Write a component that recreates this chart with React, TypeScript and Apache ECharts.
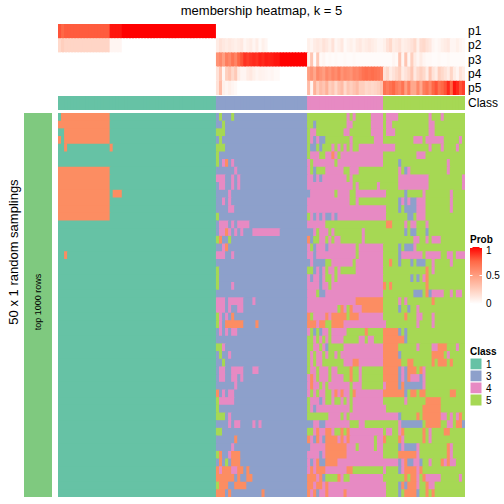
import React, { useEffect, useRef } from "react";
import * as echarts from "echarts";

const TITLE = "membership heatmap, k = 5";
const ROW_TITLE = "50 x 1 random samplings";
const ROW_ANNO_LABEL = "top 1000 rows";

const CLASS_IDS = [1, 3, 4, 5];
const CLASS_SIZES = [52, 30, 25, 27];
const LEGEND_CLASSES = ["1", "3", "4", "5"];
const PROB_NAMES = ["p1", "p2", "p3", "p4", "p5"];
const PROB_TICKS = ["1", "0.5", "0"];

// membership probabilities (percent), per column, segments: class1 | class3 | class4 | class5
const P1 = [
  80, 75, 78, 78, 78, 78, 78, 78, 78, 78, 78, 78, 78, 78, 78, 78, 78, 95, 95, 95,
  95, 100, 100, 100, 100, 100, 100, 100, 100, 100, 100, 100, 100, 100, 100, 100, 100, 100, 100, 100,
  100, 100, 100, 100, 100, 100, 100, 100, 100, 100, 100, 100,
  0, 0, 0, 0, 0, 0, 0, 0, 0, 0, 0, 0, 0, 0, 0, 0, 0, 0, 0, 0, 0, 0, 0, 0, 0, 0, 0, 0, 0, 0,
  0, 0, 0, 0, 0, 0, 0, 0, 0, 0, 0, 0, 0, 0, 0, 0, 0, 0, 0, 0, 0, 0, 0, 0, 0,
  0, 0, 0, 0, 0, 0, 0, 0, 0, 0, 0, 0, 0, 0, 0, 0, 0, 0, 0, 0, 0, 0, 0, 0, 0, 0, 0,
];
const P2 = [
  20, 25, 22, 22, 22, 22, 22, 22, 22, 22, 22, 22, 22, 22, 22, 22, 22, 5, 5, 5,
  5, 0, 0, 0, 0, 0, 0, 0, 0, 0, 0, 0, 0, 0, 0, 0, 0, 0, 0, 0,
  0, 0, 0, 0, 0, 0, 0, 0, 0, 0, 0, 0,
  10, 15, 12, 10, 12, 10, 8, 10, 12, 5, 8, 10, 5, 10, 3, 8, 5, 0, 0, 0, 0, 0, 0, 0, 0, 0, 0, 0, 0, 0,
  8, 5, 10, 12, 10, 15, 12, 8, 15, 5, 8, 12, 3, 6, 8, 5, 10, 12, 8, 10, 12, 10, 8, 5, 5,
  8, 15, 20, 10, 12, 15, 8, 10, 12, 15, 20, 8, 18, 20, 15, 12, 5, 3, 5, 8, 10, 12, 5, 5, 8, 5, 3,
];
const P3 = [
  0, 0, 0, 0, 0, 0, 0, 0, 0, 0, 0, 0, 0, 0, 0, 0, 0, 0, 0, 0,
  0, 0, 0, 0, 0, 0, 0, 0, 0, 0, 0, 0, 0, 0, 0, 0, 0, 0, 0, 0,
  0, 0, 0, 0, 0, 0, 0, 0, 0, 0, 0, 0,
  55, 60, 50, 65, 60, 70, 62, 75, 80, 88, 85, 88, 90, 88, 92, 90, 93, 92, 93, 95, 95, 100, 100, 100, 100, 100, 100, 100, 100, 100,
  8, 30, 2, 28, 3, 5, 2, 3, 2, 3, 2, 2, 3, 2, 2, 3, 2, 2, 2, 2, 2, 2, 2, 2, 2,
  2, 2, 2, 5, 3, 30, 5, 30, 5, 25, 10, 5, 10, 5, 3, 3, 2, 2, 3, 2, 2, 3, 2, 2, 2, 2, 2,
];
const P4 = [
  0, 0, 0, 0, 0, 0, 0, 0, 0, 0, 0, 0, 0, 0, 0, 0, 0, 0, 0, 0,
  0, 0, 0, 0, 0, 0, 0, 0, 0, 0, 0, 0, 0, 0, 0, 0, 0, 0, 0, 0,
  0, 0, 0, 0, 0, 0, 0, 0, 0, 0, 0, 0,
  15, 30, 5, 25, 30, 20, 28, 10, 5, 5, 10, 12, 8, 5, 7, 6, 5, 4, 5, 3, 3, 0, 0, 0, 0, 0, 0, 0, 0, 0,
  50, 55, 45, 60, 55, 50, 60, 55, 62, 58, 65, 55, 60, 58, 55, 62, 60, 65, 70, 72, 70, 72, 70, 68, 65,
  15, 20, 10, 15, 20, 25, 10, 15, 20, 30, 12, 20, 25, 20, 10, 30, 15, 10, 25, 20, 15, 10, 22, 10, 5, 15, 10,
];
const P5 = [
  0, 0, 0, 0, 0, 0, 0, 0, 0, 0, 0, 0, 0, 0, 0, 0, 0, 0, 0, 0,
  0, 0, 0, 0, 0, 0, 0, 0, 0, 0, 0, 0, 0, 0, 0, 0, 0, 0, 0, 0,
  0, 0, 0, 0, 0, 0, 0, 0, 0, 0, 0, 0,
  15, 35, 8, 5, 8, 5, 3, 0, 0, 0, 0, 0, 0, 0, 0, 0, 0, 0, 0, 0, 0, 0, 0, 0, 0, 0, 0, 0, 0, 0,
  35, 5, 40, 25, 35, 30, 40, 25, 30, 20, 30, 35, 20, 30, 25, 30, 35, 25, 25, 20, 22, 20, 22, 25, 30,
  70, 65, 70, 75, 65, 60, 70, 50, 65, 45, 45, 60, 45, 65, 70, 60, 75, 80, 70, 75, 80, 90, 75, 95, 90, 80, 85,
];

// per sampling row: columns whose class differs from the consensus class ("from-to:class")
const MAIN_ROWS = [
  "1-16:2 53:5 57:5 82-94:5 96:5 98-102:5 108-111:4 122:4 126:4",
  "0-16:2 54:5 82-83:5 84:3 85-94:5 97-102:5 108-109:4 122-123:4",
  "2-16:2 52-54:5 82:5 85-93:5 96-102:5 108-110:4 122-123:4",
  "0:2 2-16:2 53:5 82:5 84:3 86-87:3 88-95:5 97-103:5 117-119:4 121-126:4 132:4",
  "2:2 17:2 52-54:5 82:5 83-84:3 85:5 86:3 87-89:5 91:5 93:5 95:5 97-98:5 107-110:4 122:4 126:4 131:4",
  "52:5 82:5 86-87:5 90:2 92:5 118-120:4",
  "52:5 54:4 55:2 57:4 83:5 91:5 112:3 128:4",
  "0-16:2 58:4 83:5 84:3 85-87:5 94-95:5 99-106:5 112:4 114:3 115:4 128:4",
  "0-16:2 52-54:4 57:4 59:4 84:3 86:3 95:5 97-106:5 112-121:4 133:4",
  "0-16:2 53-54:4 57:4 59:4 97:5 99-104:5 106:5 112-121:4 133:4",
  "0-16:2 18-20:2 56:4 82:3 91:5 96-97:5 107:4 114:3 120:4 129:4",
  "0-16:2 54:4 56:4 96-97:5 99-106:5 112:3 113:4 114:3 115:4 116-117:3 118-120:4 129:4",
  "0-16:2 56-57:4 107:4 112:3 114-117:3 118-120:4 129:4",
  "0-16:2 52:5 82:5 84:3 86:3 88-89:3 91:3 107:4 115-116:3 118-120:4",
  "53-55:4 57:4 59-62:4 88-106:5 108-109:2 114:4 116-117:4 121:4",
  "53-54:4 55:2 56:4 58:4 60:4 64-72:4 82-83:3 85:5 89:5 91-99:5 101-106:5 114:3 116-117:3 121:3",
  "52:5 53:2 56:5 82:2 83:3 84-85:5 88:5 90:5 93-99:5 101-106:5 117-118:4 121:4 123-125:4",
  "54:4 55:2 83:5 84:3 88:3 98:5 112:3 114-116:3 117:4",
  "2:2 52-54:4 57:4 84:3 98:5 112:3 113-119:4 121-122:4 123-125:4 128-129:4 131-133:4",
  "82:3 84-87:3 88-89:5 97:5 109:2 112:3 116:3 118-120:3 123:4 129:4",
  "52:5 82-83:5 84:3 86:3 88:5 91:5 93-97:5 121:2 123:4",
  "52:5 83:3 86:3 88-89:5 91:5 116:3 118:3 120:4 121:2",
  "52:5 57:4 86:3 89:5 107:2 109:2 121:2",
  "85:5 86-87:3 117-119:3 121:2 122:3 123-126:4 129:4 131-132:4",
  "52-54:4 56-60:4 64:4 98-106:2 112:4 114:4 123:2",
  "52-54:4 56:4 59-60:4 92:5 93:2 95:5 96:2 100-106:2 112:3 115:3 118:4",
  "52:5 53:4 55:4 57:2 82:2 83:5 88:2 90-94:2 95:5 96-98:2 114:2 118-119:4 123:4",
  "52:5 53:4 55-60:2 65:2 82-84:2 86-87:2 88-89:5 90-93:2 107:4 118:4 123:4",
  "53:4 55:4 57-58:4 83:5 84:3 85:5 86:3 89:5 95-100:5 101:2 102-106:5 107-111:2 112:3 114:3",
  "82-83:5 85:5 87:5 89:5 94-98:5 101:5 104-106:5 107-113:2 114:3",
  "52-53:5 54:4 82-83:5 86:5 88:3 89-93:5 107-111:2 118:4 123-124:4 125-127:2 131:4",
  "53:5 56:4 82:5 84:5 87:5 89-90:5 92:5 107-111:2 112:3 123-126:2 128:4",
  "54:5 82:5 84:5 87-93:5 97-98:2 107-112:2 115-116:2 123:2 125-127:2 129:2",
  "53-54:4 57-60:4 64-65:4 82:5 85:5 89:5 92-95:5 96:2 97-98:5 100-106:5 107-111:2 112:3 113:4 114:3 115-117:2 119:2 120:4",
  "53-54:4 57-58:4 60:4 83:2 85:5 89:5 94-95:5 96:2 97-98:5 100-106:5 107-111:2 112:3 113:4 114:3 115:2 116-118:4 119:3 120:4",
  "58:4 83:2 86:5 88:5 96:5 100-106:5 107:4 108-111:2 112:3 113:2 114-119:3 120:4",
  "52:2 54:4 56-57:4 83:5 85:5 88-89:5 91:2 93:2 96:5 97:2 107-113:2 114:3 116-117:2 119-120:2 129-130:2",
  "52:5 53-57:4 82:5 86:3 88-89:5 91:5 92:5 94:5 96:5 114:4 121-125:2",
  "52:5 82:5 84:3 96:5 107:4 120-125:2",
  "52-54:5 56:4 82-88:5 93:5 95:5 107-111:4 112:3 118:2 120-125:2 126-127:4 129:4 131:4 132:2",
  "56:4 58-59:4 64:4 66:4 82-83:3 86-87:3 96-98:5 101-106:5 112:4 113-119:3 121-125:2 128-129:4 131-132:2 133:3",
  "52-53:5 82-83:5 85:2 88-89:2 91:5 92:5 93:2 94:5 95:2 108-109:4 112:4 113:2 120:2 122:4 127-128:2",
  "58:2 82:2 84:3 85:2 87:3 88-91:2 93:2 95:2 104:5 107:2 112:2 113:4 120:2 122:4",
  "57:4 82:3 88-91:2 92-94:2 98:5 104:5 112:3 113:4 114-117:3 118:4 128:2 129:4",
  "52:5 53:2 56:4 57-59:2 86:3 88-94:2 112-117:2 118:4 128:2 129:4",
  "53:2 55:5 57-59:2 83:3 85:2 86-87:3 88-91:2 107-111:4 112:3 113:4 114:2 115-116:3 117-118:4 119:3 122:4 126:2 127:4 128:2 129-130:4",
  "52:2 53:4 54-56:2 57-58:4 59-60:2 62:2 83:2 85-87:2 95-96:2 97-106:5 107:4 112:3 113:4 114-117:2 118:4 119:2",
  "52-57:2 59:2 62-63:2 82-84:2 86:2 87:3 88-91:5 92:2 94-95:5 114:2 116-117:2 118:4 120:2 121-125:4 132:4",
  "52:5 53-55:2 58-61:2 82-83:2 85-86:2 88:2 107:4 112:3 113:2 114:3 115-117:2 118:4 121:2 122-123:4",
  "52-54:2 56:2 67:2 82:2 84:2 85:3 88:2 94:2 107:4 112:3 114-117:2 118:3 121:2 123:2",
];

const CLASS_COLORS: Record<number, string> = {
  1: "#66C2A5",
  2: "#FC8D62",
  3: "#8DA0CB",
  4: "#E78AC3",
  5: "#A6D854",
};
const FONT = "'Liberation Sans', Arial, sans-serif";

function buildData() {
  const columnClass: number[] = [];
  CLASS_IDS.forEach((c, i) => {
    for (let k = 0; k < CLASS_SIZES[i]; k++) columnClass.push(c);
  });
  const n = columnClass.length;
  const rows = MAIN_ROWS.map((str) => {
    const row = columnClass.slice();
    str
      .trim()
      .split(/\s+/)
      .filter(Boolean)
      .forEach((tok) => {
        const [range, cls] = tok.split(":");
        const parts = range.split("-").map(Number);
        const a = parts[0];
        const b = parts.length > 1 ? parts[1] : a;
        for (let c = a; c <= b && c < n; c++) row[c] = Number(cls);
      });
    return row;
  });
  const runs: number[][] = [];
  rows.forEach((row, r) => {
    let s = 0;
    for (let c = 1; c <= n; c++) {
      if (c === n || row[c] !== row[s]) {
        runs.push([s, c - 1, r, row[s]]);
        s = c;
      }
    }
  });
  const probs = [P1, P2, P3, P4, P5];
  const probData: number[][] = [];
  probs.forEach((arr, i) => {
    for (let c = 0; c < n; c++) probData.push([c, c, i, (arr[c] ?? 0) / 100]);
  });
  const classData = columnClass.map((cls, c) => [c, c, 0, cls]);
  return { n, runs, probData, classData, nRows: rows.length };
}

export default function App() {
  const ref = useRef<HTMLDivElement>(null);
  useEffect(() => {
    if (!ref.current) return;
    const chart = echarts.init(ref.current, undefined, { renderer: "svg" });
    const { n, runs, probData, classData, nRows } = buildData();
    const cols = Array.from({ length: n }, (_, i) => String(i));
    const rowNames = Array.from({ length: nRows }, (_, i) => String(i));

    const gridBase = { left: 58, width: 407, containLabel: false, outerBoundsMode: "none" } as any;
    const hiddenX = (g: number) => ({ type: "category", gridIndex: g, data: cols, show: false, boundaryGap: true });
    const labelY = (g: number, data: string[]) => ({
      type: "category",
      gridIndex: g,
      data,
      inverse: true,
      position: "right",
      axisLine: { show: false },
      axisTick: { show: false },
      splitLine: { show: false },
      axisLabel: { margin: 3, fontSize: 12, color: "#000", fontFamily: FONT, interval: 0 },
    });

    const cellRender = (colorFn: (api: any) => string) => (params: any, api: any) => {
      const s = api.value(0);
      const e = api.value(1);
      const r = api.value(2);
      const p0 = api.coord([s, r]);
      const p1 = api.coord([e, r]);
      const sz = api.size([1, 1]);
      const cs = params.coordSys;
      const x = p0[0] - sz[0] / 2;
      const y = p0[1] - sz[1] / 2;
      const right = Math.min(p1[0] + sz[0] / 2 + 1, cs.x + cs.width);
      const bottom = Math.min(y + sz[1] + 1, cs.y + cs.height);
      return {
        type: "rect",
        shape: { x, y, width: right - x, height: bottom - y },
        style: { fill: colorFn(api) },
      };
    };

    const legendX = 470;
    const graphic: any[] = [
      {
        type: "text",
        x: 261.5,
        y: 10,
        style: { text: TITLE, fontSize: 13, fill: "#000", fontFamily: FONT, align: "center", verticalAlign: "middle" },
      },
      {
        type: "text",
        x: 13,
        y: 252,
        rotation: Math.PI / 2,
        style: { text: ROW_TITLE, fontSize: 13, fill: "#000", fontFamily: FONT, align: "center", verticalAlign: "middle" },
      },
      { type: "rect", shape: { x: 24, y: 113, width: 28, height: 384 }, style: { fill: "#7FC97F" } },
      {
        type: "text",
        x: 38,
        y: 302,
        rotation: Math.PI / 2,
        style: { text: ROW_ANNO_LABEL, fontSize: 9, fill: "#000", fontFamily: FONT, align: "center", verticalAlign: "middle" },
      },
      {
        type: "text",
        x: legendX,
        y: 239,
        style: { text: "Prob", fontSize: 10, fontWeight: "bold", fill: "#000", fontFamily: FONT, verticalAlign: "middle" },
      },
      {
        type: "rect",
        shape: { x: legendX, y: 247, width: 12, height: 57 },
        style: {
          fill: new echarts.graphic.LinearGradient(0, 0, 0, 1, [
            { offset: 0, color: "#FF0000" },
            { offset: 0.25, color: "#FF6846" },
            { offset: 0.5, color: "#FF9E81" },
            { offset: 0.75, color: "#FFCFBE" },
            { offset: 1, color: "#FFFFFF" },
          ]),
        },
      },
    ];
    PROB_TICKS.forEach((t, i) => {
      const y = 247.5 + i * 28;
      const ty = i === 0 ? y + 2.5 : i === 2 ? y - 0.5 : y;
      graphic.push(
        { type: "line", shape: { x1: legendX, y1: y, x2: legendX + 2.5, y2: y }, style: { stroke: "#fff", lineWidth: 1 } },
        { type: "line", shape: { x1: legendX + 9.5, y1: y, x2: legendX + 12, y2: y }, style: { stroke: "#fff", lineWidth: 1 } },
        {
          type: "text",
          x: 486,
          y: ty,
          style: { text: t, fontSize: 10, fill: "#000", fontFamily: FONT, verticalAlign: "middle" },
        }
      );
    });
    graphic.push({
      type: "text",
      x: legendX,
      y: 351,
      style: { text: "Class", fontSize: 10, fontWeight: "bold", fill: "#000", fontFamily: FONT, verticalAlign: "middle" },
    });
    LEGEND_CLASSES.forEach((c, i) => {
      const y = 358 + i * 12;
      graphic.push(
        {
          type: "rect",
          shape: { x: legendX, y, width: 12, height: 12 },
          style: { fill: CLASS_COLORS[Number(c)], stroke: "#fff", lineWidth: 1 },
        },
        {
          type: "text",
          x: 486,
          y: y + 6,
          style: { text: c, fontSize: 10, fill: "#000", fontFamily: FONT, verticalAlign: "middle" },
        }
      );
    });

    chart.setOption({
      animation: false,
      backgroundColor: "#fff",
      grid: [
        { ...gridBase, top: 24, height: 71 },
        { ...gridBase, top: 96, height: 14 },
        { ...gridBase, top: 113, height: 384 },
      ],
      xAxis: [hiddenX(0), hiddenX(1), hiddenX(2)],
      yAxis: [
        labelY(0, PROB_NAMES),
        labelY(1, ["Class"]),
        { type: "category", gridIndex: 2, data: rowNames, inverse: true, show: false },
      ],
      visualMap: [
        {
          type: "continuous",
          show: false,
          seriesIndex: 0,
          dimension: 3,
          min: 0,
          max: 1,
          inRange: { color: ["#FFFFFF", "#FFCFBE", "#FF9E81", "#FF6846", "#FF0000"] },
        },
      ],
      series: [
        {
          type: "custom",
          xAxisIndex: 0,
          yAxisIndex: 0,
          encode: { x: [0, 1], y: 2 },
          data: probData,
          renderItem: cellRender((api) => api.visual("color")),
        },
        {
          type: "custom",
          xAxisIndex: 1,
          yAxisIndex: 1,
          encode: { x: [0, 1], y: 2 },
          data: classData,
          renderItem: cellRender((api) => CLASS_COLORS[api.value(3)]),
        },
        {
          type: "custom",
          xAxisIndex: 2,
          yAxisIndex: 2,
          encode: { x: [0, 1], y: 2 },
          data: runs,
          renderItem: cellRender((api) => CLASS_COLORS[api.value(3)]),
        },
      ],
      graphic,
    });
    return () => chart.dispose();
  }, []);
  return <div ref={ref} style={{ position: "fixed", left: 0, top: 0, width: 504, height: 504 }} />;
}
